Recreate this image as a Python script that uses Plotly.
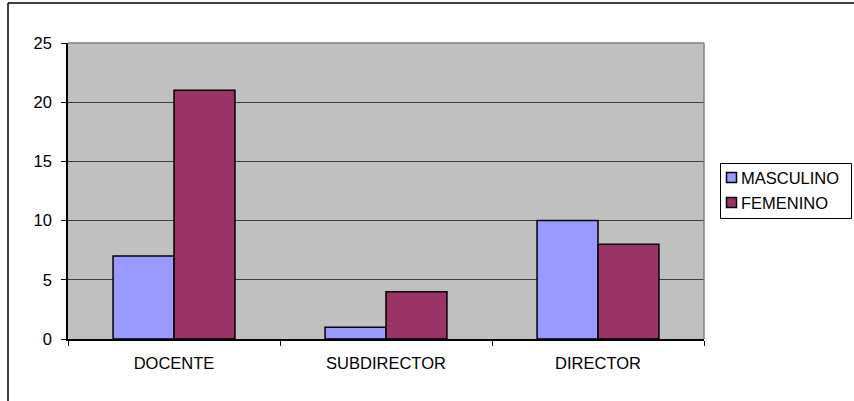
import plotly.graph_objects as go

categorias = ["DOCENTE", "SUBDIRECTOR", "DIRECTOR"]
masculino = [7, 1, 10]
femenino = [21, 4, 8]
y_ticks = [0, 5, 10, 15, 20, 25]

series = [("MASCULINO", masculino, "#9999FF"), ("FEMENINO", femenino, "#993366")]

W, H = 854, 401
L, R, T, B = 68, 150, 43, 62
pw, ph = W - L - R, H - T - B
FONT = "Liberation Sans, Arial"
FS = 16.5


def px_x(p):
    return (p - L) / pw


def px_y(p):
    return (H - B - p) / ph


fig = go.Figure()
for nombre, valores, color in series:
    fig.add_trace(go.Bar(name=nombre, x=categorias, y=valores,
                         marker=dict(color=color, line=dict(color="#000000", width=1.5))))

shapes = []
# outer chart frame (runs past the right and bottom edges)
shapes.append(dict(type="line", xref="paper", yref="paper",
                   x0=px_x(8), x1=px_x(8), y0=px_y(3), y1=px_y(410),
                   line=dict(color="#000000", width=1.5)))
shapes.append(dict(type="line", xref="paper", yref="paper",
                   x0=px_x(8), x1=px_x(870), y0=px_y(3), y1=px_y(3),
                   line=dict(color="#000000", width=1.5)))
# plot-area border on top and right
shapes.append(dict(type="line", xref="paper", yref="paper",
                   x0=0, x1=1, y0=1, y1=1, line=dict(color="#808080", width=1.5)))
shapes.append(dict(type="line", xref="paper", yref="paper",
                   x0=1, x1=1, y0=0, y1=1, line=dict(color="#808080", width=1.5)))

# legend box with square swatches
shapes.append(dict(type="rect", xref="paper", yref="paper",
                   x0=px_x(720.5), x1=px_x(851.5), y0=px_y(163.5), y1=px_y(218.5),
                   line=dict(color="#000000", width=1), fillcolor="#FFFFFF"))
annotations = []
for i, (nombre, _, color) in enumerate(series):
    cy = 177.5 + 25 * i
    shapes.append(dict(type="rect", xref="paper", yref="paper",
                       x0=px_x(726.5), x1=px_x(736.5), y0=px_y(cy - 5), y1=px_y(cy + 5),
                       line=dict(color="#000000", width=1.5), fillcolor=color))
    annotations.append(dict(xref="paper", yref="paper", x=px_x(739), y=px_y(cy + 0.5),
                            xanchor="left", yanchor="middle", showarrow=False,
                            text=nombre, font=dict(family=FONT, size=FS, color="#000000")))

fig.update_layout(
    width=W, height=H,
    margin=dict(l=L, r=R, t=T, b=B),
    paper_bgcolor="#FFFFFF",
    plot_bgcolor="#C0C0C0",
    barmode="group",
    bargap=0.425,
    bargroupgap=0,
    font=dict(family=FONT, size=FS, color="#000000"),
    showlegend=False,
    shapes=shapes,
    annotations=annotations,
    xaxis=dict(showgrid=False, showline=True, linecolor="#000000", linewidth=1.5,
               ticks="outside", tickson="boundaries", ticklen=5, tickcolor="#000000",
               tickfont=dict(size=FS), ticklabelstandoff=8),
    yaxis=dict(range=[0, 25], tickvals=y_ticks, showgrid=True, gridcolor="#404040",
               gridwidth=1, showline=True, linecolor="#000000", linewidth=1.5,
               ticks="outside", ticklen=5, tickcolor="#000000", zeroline=False,
               tickfont=dict(size=FS), ticklabelstandoff=6),
)

fig.write_html("out.html")
